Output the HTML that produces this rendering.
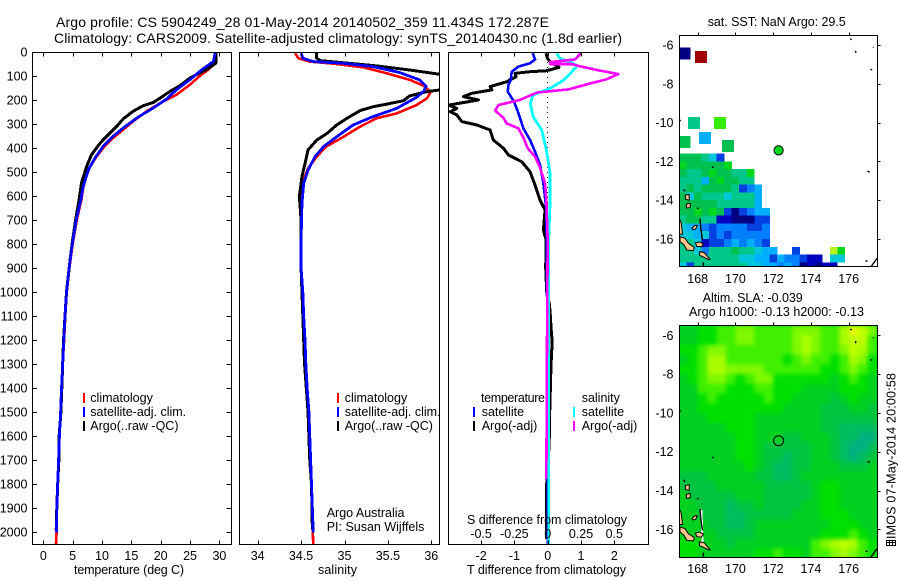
<!DOCTYPE html>
<html>
<head>
<meta charset="utf-8">
<title>Argo profile</title>
<style>
html,body{margin:0;padding:0;background:#fff;width:900px;height:580px;overflow:hidden}
svg{display:block}
text{font-family:"Liberation Sans",sans-serif;font-size:12.5px;fill:#000}
.ttl{font-size:14px}
</style>
</head>
<body>
<svg id="fig" xmlns="http://www.w3.org/2000/svg" width="900" height="580" viewBox="0 0 900 580">
<defs>
<clipPath id="c1"><rect x="32.5" y="52" width="199" height="493"/></clipPath>
<clipPath id="c2"><rect x="239.5" y="52" width="200" height="493"/></clipPath>
<clipPath id="c3"><rect x="448.5" y="52" width="200" height="493"/></clipPath>
<clipPath id="cm1"><rect x="679.5" y="35.5" width="198" height="231"/></clipPath>
<clipPath id="cm2"><rect x="679.5" y="325.5" width="198" height="232"/></clipPath>
<filter id="soft" x="-10%" y="-10%" width="120%" height="120%" color-interpolation-filters="sRGB"><feGaussianBlur stdDeviation="2.2"/></filter>
</defs>
<rect x="0" y="0" width="900" height="580" fill="#fff"/>

<text class="ttl" x="56" y="27" textLength="493" lengthAdjust="spacing">Argo profile: CS 5904249_28 01-May-2014 20140502_359 11.434S 172.287E</text>
<text class="ttl" x="54" y="43" textLength="568" lengthAdjust="spacing">Climatology: CARS2009. Satellite-adjusted climatology: synTS_20140430.nc (1.8d earlier)</text>

<g id="p1"></g>
<g id="p2"></g>
<g id="p3"></g>
<g id="m1"></g>
<g id="m2"></g>

<text x="74" y="574" textLength="110" lengthAdjust="spacing">temperature (deg C)</text>
<text x="318" y="574" textLength="39" lengthAdjust="spacing">salinity</text>
<text x="467" y="524" textLength="160" lengthAdjust="spacing">S difference from climatology</text>
<text x="467" y="574" textLength="159" lengthAdjust="spacing">T difference from climatology</text>

<g>
<rect x="83" y="393" width="2" height="10" fill="#f00"/>
<text x="90.3" y="402">climatology</text>
<rect x="83" y="407" width="2" height="10" fill="#00f"/>
<text x="90.3" y="416">satellite-adj. clim.</text>
<rect x="83" y="421" width="2" height="10" fill="#000"/>
<text x="90.3" y="430">Argo(..raw -QC)</text>
</g>
<g>
<rect x="337" y="393" width="2" height="10" fill="#f00"/>
<text x="344.7" y="402">climatology</text>
<rect x="337" y="407" width="2" height="10" fill="#00f"/>
<text x="344.7" y="416">satellite-adj. clim.</text>
<rect x="337" y="421" width="2" height="10" fill="#000"/>
<text x="344.7" y="430">Argo(..raw -QC)</text>
</g>
<g>
<text x="481" y="402" textLength="64" lengthAdjust="spacing">temperature</text>
<rect x="473" y="407" width="2" height="10" fill="#00f"/>
<text x="481.7" y="416">satellite</text>
<rect x="473" y="421" width="2" height="10" fill="#000"/>
<text x="481.7" y="430">Argo(-adj)</text>
<text x="581.7" y="402">salinity</text>
<rect x="573" y="407" width="2" height="10" fill="#0ff"/>
<text x="581.7" y="416">satellite</text>
<rect x="573" y="421" width="2" height="10" fill="#f0f"/>
<text x="581.7" y="430">Argo(-adj)</text>
</g>
<text x="326.7" y="517">Argo Australia</text>
<text x="326.7" y="531">PI: Susan Wijffels</text>

<text class="ttl" style="font-size:12.5px" x="707.7" y="26" textLength="138" lengthAdjust="spacing">sat. SST: NaN Argo: 29.5</text>
<text x="702.7" y="302" textLength="100" lengthAdjust="spacing">Altim. SLA: -0.039</text>
<text x="689" y="316" textLength="175" lengthAdjust="spacing">Argo h1000: -0.13 h2000: -0.13</text>

<g stroke="#000" stroke-width="0.7" fill="none" shape-rendering="crispEdges">
<rect x="886.5" y="540.5" width="9" height="5"/><path d="M886.5 542.5h9M889.5 540.5v5M892.5 540.5v5"/>
</g>
<text transform="translate(895.5,539) rotate(-90)" textLength="166" lengthAdjust="spacing">IMOS 07-May-2014 20:00:58</text>
</svg>

<script>
// ---------- profile data ----------
const depthTicks = [0,100,200,300,400,500,600,700,800,900,1000,1100,1200,1300,1400,1500,1600,1700,1800,1900,2000];
const tempTicks = [0,5,10,15,20,25,30];
const salTicks = [34,34.5,35,35.5,36];
const salTickLabels = ['34','34.5','35','35.5','36'];
const tDiffTicks = [-2,-1,0,1,2];
const tDiffLabels = ['-2','-1','0','1','2'];
const sDiffTicks = [-0.5,-0.25,0,0.25,0.5];
const sDiffLabels = ['-0.5','-0.25','0','0.25','0.5'];

const climTempDepth = [0,46,74,99,136,178,206,247,289,324,358,400,435,476,517,566,615,700,800,900,1000,1100,1200,1300,1400,1500,1600,1700,1800,1900,2000,2054];
const climTemp = [29.3,29.3,28.1,26.7,25,22.7,20.4,17.6,15.3,13.6,11.9,10.2,9.1,8,7.3,6.8,6.5,5.7,5.0,4.45,4.0,3.75,3.55,3.3,3.1,2.95,2.75,2.6,2.45,2.3,2.27,2.15];
const satTempDepth = [0,39,74,115,157,196,233,275,317,351,393,442,490,560,615,700,800,900,1000,1100,1200,1300,1400,1500,1600,1700,1800,1900,2003];
const satTemp = [29.3,29.0,27,25,22.7,21,18.75,15.9,13.6,11.9,10.2,8.8,7.7,6.8,6.4,5.6,4.95,4.4,3.95,3.7,3.5,3.3,3.1,2.95,2.75,2.6,2.45,2.3,2.25];
const argoTempDepth = [0,46,69,87,108,140,164,192,210,224,247,279,310,351,379,428,476,546,615,700,800,900,1000,1100,1200,1300,1400,1500,1600,1700,1800,1900,1990];
const argoTemp = [29.4,29.4,28.1,26.7,25,23.3,21.6,19.9,18.75,17,15.3,13.6,12.5,10.8,9.7,8.2,7.4,6.5,6.1,5.5,4.9,4.4,3.95,3.7,3.45,3.3,3.15,3.0,2.7,2.65,2.45,2.3,2.2];

const climSalDepth = [5,26,40,50,64,89,117,144,169,193,221,256,276,311,353,394,436,485,533,603,700,800,900,1000,1100,1200,1300,1400,1500,1600,1700,1800,1900,2000,2054];
const climSal = [34.43,34.47,34.6,34.91,35.22,35.49,35.76,35.93,35.99,35.95,35.83,35.6,35.37,35.18,34.99,34.79,34.68,34.58,34.53,34.51,34.5,34.5,34.5,34.52,34.53,34.545,34.555,34.57,34.59,34.6,34.61,34.62,34.63,34.635,34.64];
const satSalDepth = [5,26,40,47,61,86,117,142,165,189,235,269,304,353,394,436,492,547,631,783,900,1000,1100,1200,1300,1400,1500,1600,1700,1800,1900,2003];
const satSal = [34.5,34.52,34.64,34.99,35.33,35.64,35.87,35.94,35.91,35.83,35.6,35.33,35.1,34.91,34.76,34.66,34.58,34.53,34.51,34.5,34.5,34.52,34.53,34.545,34.555,34.57,34.59,34.6,34.61,34.62,34.63,34.64];
const argoSalDepth = [5,26,36,50,58,75,93,125,158,165,183,203,217,228,244,276,304,339,367,408,457,519,603,700,800,900,1000,1100,1200,1300,1400,1500,1600,1700,1800,1990];
const argoSal = [34.68,34.68,34.72,35.14,35.37,35.75,36.1,36.5,36.1,35.95,35.75,35.68,35.49,35.33,35.18,35.03,34.91,34.8,34.68,34.58,34.55,34.51,34.48,34.5,34.5,34.5,34.51,34.52,34.53,34.54,34.56,34.58,34.59,34.6,34.62,34.63];

const tSatDiffDepth = [5,31,47,61,82,117,137,165,207,255,318,367,415,471,547,644,783,1000,1500,2054];
const tSatDiff = [-0.45,-0.38,-0.53,-0.88,-1.08,-1.11,-1.18,-1.2,-1.01,-0.88,-0.73,-0.53,-0.38,-0.23,-0.13,-0.05,-0.03,-0.02,0,0];
const tArgoDiffDepth = [5,26,40,64,78,82,89,103,124,144,158,172,186,200,221,235,249,262,290,304,325,367,401,429,457,499,554,617,658,742,783,900,1000,1050,1100,1150,1200,1250,1300,1400,1500,1600,1700,1800,2030];
const tArgoDiff = [-0.05,-0.01,0.07,0.34,-0.03,-0.53,-0.98,-0.95,-1.23,-1.73,-1.68,-2.28,-2.53,-2.08,-2.97,-2.73,-2.93,-2.73,-2.58,-2.13,-1.73,-1.63,-1.33,-1.18,-0.78,-0.53,-0.38,-0.23,-0.08,-0.13,-0.05,-0.06,-0.03,0.05,0.08,0.1,0.13,0.12,0.1,0.08,0.06,0.05,0.02,-0.03,-0.03];
const sSatDiffDepth = [5,26,47,58,89,117,151,179,214,269,325,408,505,624,783,2054];
const sSatDiff = [0.068,0.09,0.19,0.22,0.17,0.12,0.02,-0.11,-0.13,-0.11,-0.045,-0.01,0.018,0.018,0.0075,0.0075];
const sArgoDiffDepth = [5,31,42,50,50,58,75,92,114,131,156,169,200,221,244,276,297,318,360,401,436,478,547,617,783,1200,1780];
const sArgoDiff = [0.25,0.205,0.018,0.018,0.18,0.23,0.37,0.53,0.44,0.32,0.155,-0.08,-0.21,-0.37,-0.395,-0.33,-0.31,-0.22,-0.18,-0.15,-0.095,-0.06,-0.02,-0.01,0,-0.005,-0.01];

// ---------- map data ----------
const lonTicks = [168,170,172,174,176];
const latTicks = [-6,-8,-10,-12,-14,-16];
const argoLon = 172.287;
const argoLat = -11.434;

// SLA field, 0.5 degree cells, north to south, starts at 167E, 5.5S. Levels 0..10.
const slaLevels = [
[4,4,5,5,6,6,7,7,6,6,6,6,7,7,7,6,6,8,10,9,7],
[4,4,5,5,6,6,7,7,6,6,6,6,7,8,7,6,6,8,9,9,6],
[5,5,6,7,7,6,6,6,6,6,6,6,7,8,7,6,6,7,9,8,6],
[4,5,6,8,8,6,6,6,6,6,6,5,6,7,6,6,5,6,8,7,5],
[5,5,6,8,8,7,7,7,7,6,6,6,6,6,6,5,5,6,7,6,5],
[4,5,6,7,7,6,5,6,7,7,5,5,5,5,5,5,4,5,6,5,4],
[4,4,6,6,6,5,5,5,6,6,5,5,5,4,4,4,4,5,5,5,4],
[4,4,5,6,5,5,5,5,5,6,5,5,4,4,4,4,3,4,5,4,4],
[4,4,5,5,5,5,5,5,5,5,5,4,4,4,4,3,3,3,4,4,3],
[4,4,4,5,5,5,5,5,4,4,4,4,4,4,4,3,3,3,3,3,3],
[4,4,4,4,4,5,5,5,4,4,4,4,4,4,4,3,3,2,2,2,2],
[4,4,4,4,4,4,5,5,4,4,4,3,3,4,4,4,3,2,2,1,1],
[4,4,4,4,4,4,5,5,4,3,3,3,3,3,4,4,3,2,1,1,2],
[4,4,4,4,4,4,5,5,4,3,3,2,3,3,4,4,3,2,1,2,3],
[4,4,4,4,4,4,4,5,4,3,2,2,3,3,4,4,4,3,3,3,4],
[3,3,3,4,4,4,4,4,3,3,2,2,3,4,4,4,4,4,4,4,4],
[3,3,3,3,4,4,4,4,4,3,3,3,3,3,4,5,5,4,4,4,4],
[4,3,3,3,3,3,4,4,4,3,3,3,3,3,4,5,5,4,4,4,4],
[4,4,3,3,3,2,3,3,4,3,3,3,3,4,4,5,5,4,4,4,4],
[4,4,3,3,3,2,2,3,3,3,3,3,4,4,4,5,5,5,4,4,4],
[4,4,4,3,3,2,2,3,4,4,4,4,4,4,4,4,5,5,5,4,4],
[4,4,4,4,3,3,3,3,4,4,4,4,4,4,4,5,5,5,6,5,4],
[5,5,4,4,4,3,4,4,4,4,4,4,4,4,6,7,8,9,8,6,5],
[5,5,4,4,4,4,4,4,5,5,6,5,5,4,6,6,7,8,7,6,5]
];
const slaPalette = ['#00a090','#00b080','#00bc60','#00c440','#00d020','#00e000','#40f000','#80f800','#a8fc00','#c0ff00','#e8ff00'];

// SST field, 0.4 degree cells, starts at 167E, 11.6S. 0 means no data.
const sstLevels = [
[8,8,8,7,6,3],
[9,8,8,8,8,8,9],
[8,7,7,8,9,8,8,7,7,9],
[7,7,7,5,8,9,8,8,7,7],
[7,8,7,8,8,8,8,7,3,4,5],
[8,6,8,7,7,7,6,7,7,7,5],
[8,8,8,8,8,7,7,7,7,7,5],
[8,8,9,8,9,8,3,1,3,4,5,5],
[7,8,8,7,7,2,2,1,1,1,3,3],
[6,5,5,4,3,4,4,4,4,3,3,4],
[6,6,5,6,3,4,3,4,4,4,4,4],
[7,7,6,2,3,3,4,5,4,5,4,3],
[7,7,6,4,7,7,7,8,7,7,6,5,5,0,0,3,0,0,0,0,10,9],
[7,7,7,7,7,7,7,7,6,6,5,5,3,5,4,4,3,2,2,0,6,6],
[6,3,7,7,7,7,7,7,7,6,6,5,5,4,5,4,1,2,1,2,2]
];
const sstPalette = ['none','#000080','#0000c0','#0040e0','#0080ff','#00b0ff','#00c8d8','#00c88a','#00c050','#00d820','#b8f020','#a00000'];
// Sparse 0.6 degree SST blocks further north
const sstBlockLon = [167.0,167.86,167.49,168.86,168.07,169.29,167.0];
const sstBlockLat = [-6.12,-6.31,-9.71,-9.71,-10.48,-10.9,-10.69];
const sstBlockLevel = [1,11,7,9.5,5,8,8];

// Coastlines as [lon,lat] pairs
const landIslands = [
[[167.06,-15.88],[167.33,-15.97],[167.5,-16.22],[167.82,-16.43],[167.77,-16.6],[167.42,-16.57],[167.28,-16.31],[167.06,-16.14]],
[[167.03,-14.95],[167.12,-15.15],[167.2,-15.75],[167.03,-15.75]],
[[167.7,-15.45],[167.85,-15.3],[167.98,-15.3],[167.9,-15.48],[167.75,-15.52]],
[[167.88,-16.2],[168.1,-16.15],[168.3,-16.25],[168.2,-16.4],[167.95,-16.38]],
[[168.1,-16.65],[168.35,-16.7],[168.65,-17.05],[168.55,-17.05],[168.25,-16.9],[168.1,-16.85]],
[[167.35,-13.75],[167.55,-13.7],[167.55,-14.0],[167.35,-13.95]],
[[167.4,-14.2],[167.6,-14.15],[167.6,-14.38],[167.4,-14.4]]
];
const coastLines = [
[[168.12,-14.96],[168.16,-15.4],[168.2,-15.7],[168.25,-16.05]],
[[177.5,-17.0],[177.13,-17.5]],
[[177.0,-12.5],[177.12,-12.55]],
[[176.9,-17.12],[177.0,-17.15]],
[[167.25,-13.45],[167.33,-13.55]],
[[167.95,-14.42],[168.05,-14.42]],
[[168.75,-12.3],[168.85,-12.3]],
[[176.08,-5.68],[176.16,-5.72]],
[[176.36,-6.3],[176.38,-6.4]],
[[177.28,-6.12],[177.32,-6.12]],
[[177.15,-7.27],[177.25,-7.27]],
[[167.02,-9.85],[167.1,-9.92]],
[[168.3,-17.2],[168.3,-17.45]]
];

// ---------- axis functions ----------
const yDepth = d => 52 + 0.24 * d;
const xTemp = t => 43.3 + 5.87 * t;
const xSal = s => 257.7 + 86.8 * (s - 34);
const xTDiff = t => 547.7 + 33.3 * t;
const xSDiff = s => 547.7 + 133.2 * s;
const xLon = lon => 697.7 + 18.87 * (lon - 168);
const yLat1 = lat => 45 - 19.4 * (lat + 6);
const yLat2 = lat => 335.3 - 19.4 * (lat + 6);

const NS = 'http://www.w3.org/2000/svg';
function node(tag, parent) {
  const el = document.createElementNS(NS, tag);
  parent.appendChild(el);
  return el;
}
function seg(parent, x1, y1, x2, y2) {
  const l = node('line', parent);
  l.setAttribute('x1', x1); l.setAttribute('y1', y1);
  l.setAttribute('x2', x2); l.setAttribute('y2', y2);
  l.setAttribute('stroke', '#000');
  l.setAttribute('stroke-width', 1);
  l.setAttribute('shape-rendering', 'crispEdges');
  return l;
}
function label(parent, x, y, str, anchor) {
  const t = node('text', parent);
  t.setAttribute('x', x); t.setAttribute('y', y);
  t.setAttribute('text-anchor', anchor);
  t.textContent = str;
  return t;
}
function frame(parent, x, y, w, h) {
  const r = node('rect', parent);
  r.setAttribute('x', x); r.setAttribute('y', y);
  r.setAttribute('width', w); r.setAttribute('height', h);
  r.setAttribute('fill', 'none');
  r.setAttribute('stroke', '#000');
  r.setAttribute('stroke-width', 1);
  r.setAttribute('shape-rendering', 'crispEdges');
  return r;
}
function curve(parent, xs, ds, xf, color, width) {
  const p = node('polyline', parent);
  p.setAttribute('points', xs.map((v, i) => xf(v).toFixed(2) + ',' + yDepth(ds[i]).toFixed(2)).join(' '));
  p.setAttribute('fill', 'none');
  p.setAttribute('stroke', color);
  p.setAttribute('stroke-width', width);
  p.setAttribute('stroke-linejoin', 'round');
  p.setAttribute('shape-rendering', 'crispEdges');
  return p;
}
function clipGroup(parent, id) {
  const g = node('g', parent);
  g.setAttribute('clip-path', 'url(#' + id + ')');
  return g;
}

// ---------- temperature panel ----------
const p1 = document.getElementById('p1');
const g1 = clipGroup(p1, 'c1');
let mark;
mark = curve(g1, climTemp, climTempDepth, xTemp, '#f00', 2.6);


mark = curve(g1, argoTemp, argoTempDepth, xTemp, '#000', 3);


mark = curve(g1, satTemp, satTempDepth, xTemp, '#00f', 2.8);



depthTicks.forEach(d => {
  const y = Math.round(yDepth(d)) + 0.5;
  let tk = seg(p1, 32.5, y, 37, y);
  
  
  tk = seg(p1, 226.5, y, 231.5, y);
  
  
  const lb = label(p1, 27.5, yDepth(d) + 4.5, String(d), 'end');
  
  
});
tempTicks.forEach(t => {
  const x = Math.round(xTemp(t)) + 0.5;
  let tk = seg(p1, x, 52, x, 56.5);
  
  
  tk = seg(p1, x, 540.5, x, 545);
  
  
  const lb = label(p1, xTemp(t), 560, String(t), 'middle');
  
  
});
mark = frame(p1, 32.5, 52.5, 199, 492);



// ---------- salinity panel ----------
const p2 = document.getElementById('p2');
const g2 = clipGroup(p2, 'c2');
mark = curve(g2, climSal, climSalDepth, xSal, '#f00', 2.6);


mark = curve(g2, argoSal, argoSalDepth, xSal, '#000', 3);


mark = curve(g2, satSal, satSalDepth, xSal, '#00f', 2.8);


salTicks.forEach((s, i) => {
  const x = Math.round(xSal(s)) + 0.5;
  let tk = seg(p2, x, 52, x, 56.5);
  
  
  tk = seg(p2, x, 540.5, x, 545);
  
  
  const lb = label(p2, xSal(s), 560, salTickLabels[i], 'middle');
  
  
});
mark = frame(p2, 239.5, 52.5, 200, 492);



// ---------- difference panel ----------
const p3 = document.getElementById('p3');
const g3 = clipGroup(p3, 'c3');
const zero = seg(g3, xTDiff(0), yDepth(0), xTDiff(0), yDepth(2054));
zero.setAttribute('stroke-dasharray', '1 4');


mark = curve(g3, tArgoDiff, tArgoDiffDepth, xTDiff, '#000', 3);


mark = curve(g3, tSatDiff, tSatDiffDepth, xTDiff, '#00f', 2.6);


mark = curve(g3, sSatDiff, sSatDiffDepth, xSDiff, '#0ff', 2.8);


mark = curve(g3, sArgoDiff, sArgoDiffDepth, xSDiff, '#f0f', 2.6);


tDiffTicks.forEach((t, i) => {
  const x = Math.round(xTDiff(t)) + 0.5;
  let tk = seg(p3, x, 52, x, 56.5);
  
  
  tk = seg(p3, x, 540.5, x, 545);
  
  
  const lb = label(p3, xTDiff(t), 560, tDiffLabels[i], 'middle');
  
  
});
sDiffTicks.forEach((s, i) => {
  const lb = label(p3, xSDiff(s), 538, sDiffLabels[i], 'middle');
  
  
});
mark = frame(p3, 448.5, 52.5, 200, 492);



// ---------- maps ----------
function drawLand(parent, yLat) {
  landIslands.forEach(poly => {
    const p = node('polygon', parent);
    p.setAttribute('points', poly.map(c => xLon(c[0]).toFixed(1) + ',' + yLat(c[1]).toFixed(1)).join(' '));
    p.setAttribute('fill', '#ffc88a');
    p.setAttribute('stroke', '#000');
    p.setAttribute('stroke-width', 1);
    
    
  });
  coastLines.forEach(line => {
    const p = node('polyline', parent);
    p.setAttribute('points', line.map(c => xLon(c[0]).toFixed(1) + ',' + yLat(c[1]).toFixed(1)).join(' '));
    p.setAttribute('fill', 'none');
    p.setAttribute('stroke', '#000');
    p.setAttribute('stroke-width', 1.4);
    
    
  });
}
function drawMapAxes(parent, yLat, top, bottom, labelY) {
  lonTicks.forEach(lon => {
    const x = Math.round(xLon(lon)) + 0.5;
    const tk = seg(parent, x, top - 3, x, top);
    
    
    const lb = label(parent, xLon(lon), labelY, String(lon), 'middle');
    
    
  });
  latTicks.forEach(lat => {
    const y = Math.round(yLat(lat)) + 0.5;
    const tk = seg(parent, 877.5, y, 880.5, y);
    
    
    const lb = label(parent, 673.5, yLat(lat) + 4.5, String(lat), 'end');
    
    
  });
}

// SST map
const m1 = document.getElementById('m1');
const gm1 = clipGroup(m1, 'cm1');
const sstColor = v => sstPalette[Math.floor(v)] === undefined ? 'none' : (v === 9.5 ? '#33ee00' : sstPalette[Math.floor(v)]);
sstBlockLevel.forEach((v, i) => {
  const r = node('rect', gm1);
  r.setAttribute('x', xLon(sstBlockLon[i]).toFixed(1));
  r.setAttribute('y', yLat1(sstBlockLat[i]).toFixed(1));
  r.setAttribute('width', (0.63 * 18.87).toFixed(1));
  r.setAttribute('height', (0.62 * 19.4).toFixed(1));
  r.setAttribute('fill', sstColor(v));
  r.setAttribute('shape-rendering', 'crispEdges');
  
  
});
sstLevels.forEach((row, k) => {
  row.forEach((v, c) => {
    if (!v) return;
    const lon = 167 + 0.4 * c;
    const lat = -11.6 - 0.4 * k;
    const r = node('rect', gm1);
    r.setAttribute('x', xLon(lon).toFixed(1));
    r.setAttribute('y', yLat1(lat).toFixed(1));
    r.setAttribute('width', (0.4 * 18.87 + 0.4).toFixed(1));
    r.setAttribute('height', (0.4 * 19.4 + 0.4).toFixed(1));
    r.setAttribute('fill', sstColor(v));
    r.setAttribute('shape-rendering', 'crispEdges');
    
    
  });
});
drawLand(gm1, yLat1);
const argoDot = node('circle', m1);
argoDot.setAttribute('cx', xLon(argoLon).toFixed(1));
argoDot.setAttribute('cy', yLat1(argoLat).toFixed(1));
argoDot.setAttribute('r', 4.6);
argoDot.setAttribute('fill', '#00d820');
argoDot.setAttribute('stroke', '#000');
argoDot.setAttribute('stroke-width', 1);


mark = frame(m1, 679.5, 35.5, 198, 231);


drawMapAxes(m1, yLat1, 35.5, 266.5, 283);

// SLA map
const m2 = document.getElementById('m2');
const gm2 = clipGroup(m2, 'cm2');
const slaBase = node('rect', gm2);
slaBase.setAttribute('x', 679.5);
slaBase.setAttribute('y', 325.5);
slaBase.setAttribute('width', 198);
slaBase.setAttribute('height', 232);
slaBase.setAttribute('fill', '#00d020');


const cells = node('g', gm2);
cells.setAttribute('filter', 'url(#soft)');
slaLevels.forEach((row, k) => {
  row.forEach((v, c) => {
    const lon = 167 + 0.5 * c;
    const lat = -5.5 - 0.5 * k;
    const r = node('rect', cells);
    r.setAttribute('x', xLon(lon).toFixed(1));
    r.setAttribute('y', yLat2(lat).toFixed(1));
    r.setAttribute('width', (0.5 * 18.87 + 0.5).toFixed(1));
    r.setAttribute('height', (0.5 * 19.4 + 0.5).toFixed(1));
    r.setAttribute('fill', slaPalette[Math.max(0, Math.min(10, Math.round(v)))]);
    
    
  });
});
const mask = seg(gm2, xLon(168.2), yLat2(-15), xLon(168.25), yLat2(-16.7));
mask.setAttribute('stroke', '#fff');
mask.setAttribute('stroke-width', 2);


drawLand(gm2, yLat2);
const argoRing = node('circle', m2);
argoRing.setAttribute('cx', xLon(argoLon).toFixed(1));
argoRing.setAttribute('cy', yLat2(argoLat).toFixed(1));
argoRing.setAttribute('r', 5);
argoRing.setAttribute('fill', 'none');
argoRing.setAttribute('stroke', '#000');
argoRing.setAttribute('stroke-width', 1);


mark = frame(m2, 679.5, 325.5, 198, 232);


drawMapAxes(m2, yLat2, 325.5, 557.5, 573);
</script>
</body>
</html>
